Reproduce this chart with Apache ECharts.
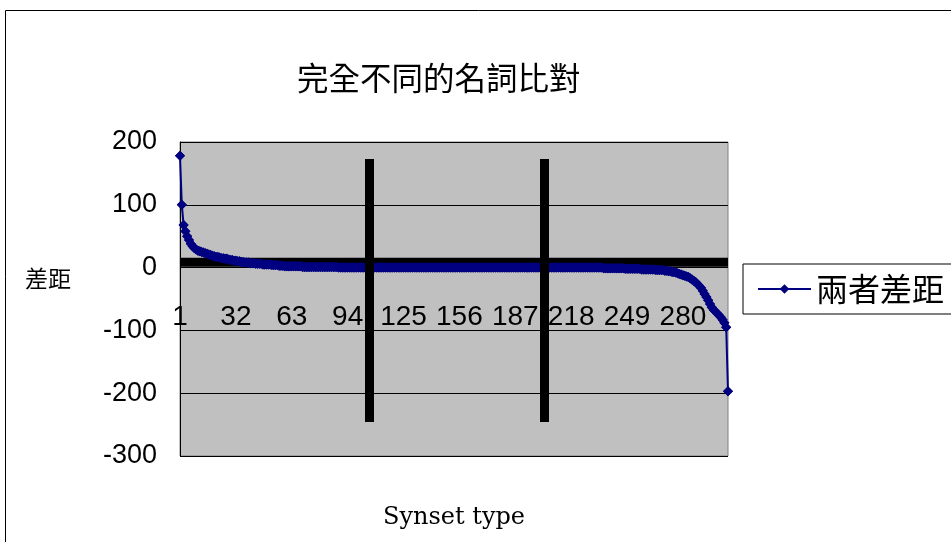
<!DOCTYPE html>
<html><head><meta charset="utf-8">
<script src="https://cdn.jsdelivr.net/npm/echarts/dist/echarts.min.js"></script>
<style>html,body{margin:0;padding:0;background:#fff}#c{width:951px;height:542px}</style>
</head><body><div id="c"></div>
<script>
const titleText = '完全不同的名詞比對';
const seriesName = '兩者差距';
const yName = '差距';
const xName = 'Synset type';
const values = [
  178,100,68,58,50,44,38,34,31,29,
  27,26,25,24,23,22,21,20,19,18,
  17,17,16,15,15,14,14,13,12,12,
  11,11,10,10,9,9,8,8,8,7,
  7,7,6,6,6,6,5,5,5,5,
  5,4,4,4,4,3,3,3,2,2,
  2,2,2,2,2,2,2,2,1,1,
  1,1,1,1,1,1,1,1,1,1,
  1,1,1,1,1,1,1,1,0,0,
  0,0,0,0,0,0,0,0,0,0,
  0,0,0,0,0,0,0,0,0,0,
  0,0,0,0,0,0,0,0,0,0,
  0,0,0,0,0,0,0,0,0,0,
  0,0,0,0,0,0,0,0,0,0,
  0,0,0,0,0,0,0,0,0,0,
  0,0,0,0,0,0,0,0,0,0,
  0,0,0,0,0,0,0,0,0,0,
  0,0,0,0,0,0,0,0,0,0,
  0,0,0,0,0,0,0,0,0,0,
  0,0,0,0,0,0,0,0,0,0,
  0,0,0,0,0,0,0,0,0,0,
  0,0,0,0,0,0,0,0,0,0,
  0,0,0,0,0,0,0,0,0,0,
  0,0,0,0,0,-1,-1,-1,-1,-1,
  -1,-1,-1,-1,-1,-1,-1,-2,-2,-2,
  -2,-2,-2,-2,-2,-2,-3,-3,-3,-3,
  -3,-3,-3,-3,-4,-4,-4,-4,-4,-5,
  -5,-6,-6,-7,-7,-8,-9,-10,-11,-12,
  -13,-14,-15,-17,-19,-21,-23,-26,-29,-32,
  -37,-42,-47,-52,-58,-63,-67,-70,-73,-76,
  -79,-83,-88,-95,-197
];
const categories = values.map((v, i) => String(i + 1));
const yMin = -300, yMax = 200, yInterval = 100;
const labelStep = 31;
const vLineCats = ['106', '203'];
const vLineRange = [173, -246];
const bandRange = [1.5, 15.5];

const navy = '#000080';
const chart = echarts.init(document.getElementById('c'));
chart.setOption({
  animation: false,
  backgroundColor: '#fff',
  title: {
    text: titleText, left: 297, top: 62, padding: 0,
    textStyle: { fontSize: 31.5, fontWeight: 'normal', fontFamily: 'Noto Sans CJK TC', color: '#000' }
  },
  legend: {
    data: [seriesName], left: 743, top: 264, orient: 'horizontal',
    backgroundColor: '#fff', borderColor: '#000', borderWidth: 1,
    padding: [8, 20, 8, 14], itemWidth: 53, itemHeight: 12,
    textStyle: { fontSize: 32, fontFamily: 'Noto Sans CJK TC', color: '#000', lineHeight: 34 }
  },
  grid: {
    left: 180, right: 223, top: 142, bottom: 86, show: true,
    backgroundColor: '#c0c0c0', borderColor: '#808080', borderWidth: 1
  },
  xAxis: {
    type: 'category', data: categories, boundaryGap: false,
    offset: -126,
    axisLine: { show: false }, axisTick: { show: false }, splitLine: { show: false },
    axisLabel: {
      inside: true, margin: -1, color: '#000', fontSize: 28, fontFamily: 'Liberation Sans',
      interval: labelStep - 1
    }
  },
  yAxis: {
    type: 'value', min: yMin, max: yMax, interval: yInterval,
    axisLine: { show: true, lineStyle: { color: '#000' } },
    axisTick: { show: false },
    splitLine: { show: true, lineStyle: { color: '#000', width: 1 } },
    axisLabel: { color: '#000', fontSize: 27, fontFamily: 'Liberation Sans', margin: 23 }
  },
  series: [
    {
      type: 'line', data: [], z: 1, silent: true,
      markArea: {
        silent: true, animation: false, z: 1, label: { show: false },
        itemStyle: { color: '#000', opacity: 1 },
        data: [[{ yAxis: bandRange[0] }, { yAxis: bandRange[1] }]]
      }
    },
    {
      name: seriesName, type: 'line', data: values, z: 3,
      symbol: 'diamond', symbolSize: 10, showAllSymbol: true,
      lineStyle: { color: navy, width: 2 }, itemStyle: { color: navy }
    },
    {
      type: 'scatter', data: values, z: 4, silent: true,
      symbol: 'diamond', symbolSize: 10, itemStyle: { color: navy, opacity: 1 }
    },
    {
      type: 'line', data: [], z: 10, silent: true,
      markLine: {
        silent: true, symbol: 'none', label: { show: false }, animation: false, z: 10,
        lineStyle: { color: '#000', width: 9, type: 'solid' },
        data: vLineCats.map(c => [{ coord: [c, vLineRange[0]] }, { coord: [c, vLineRange[1]] }])
      }
    }
  ],
  graphic: [
    { type: 'rect', silent: true, z: -10, shape: { x: 5.5, y: 10.5, width: 1000, height: 600 },
      style: { fill: 'none', stroke: '#000', lineWidth: 1 } },
    { type: 'text', left: 25, top: 267, style: { text: yName, fontSize: 23, fontFamily: 'Noto Sans CJK TC', fill: '#000' } },
    { type: 'text', left: 383, top: 506, style: { text: xName, fontSize: 24, fontFamily: 'DejaVu Serif', fill: '#000' } }
  ]
});
</script></body></html>
